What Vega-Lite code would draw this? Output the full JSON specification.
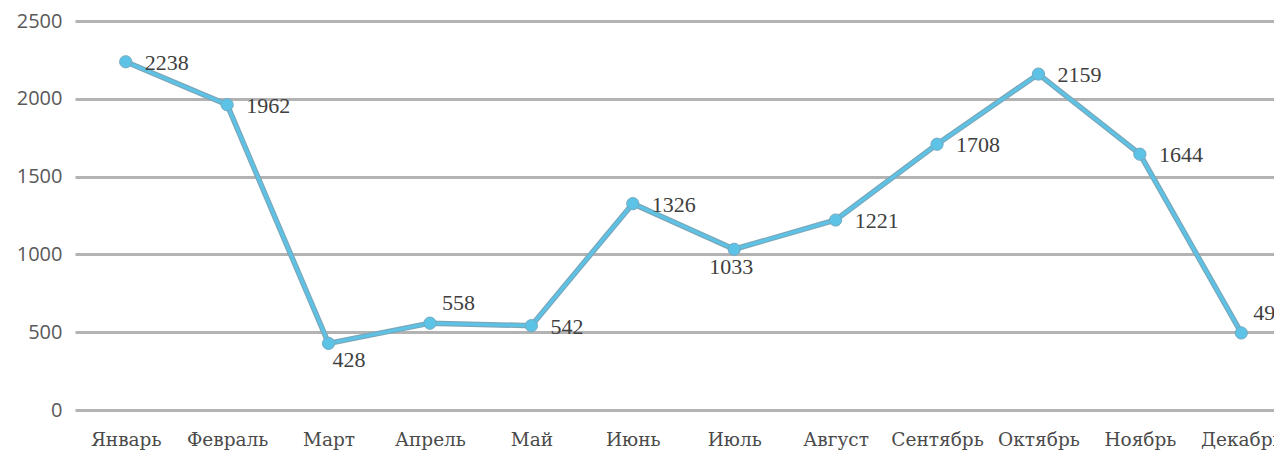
{
  "$schema": "https://vega.github.io/schema/vega-lite/v6.json",
  "width": 1217,
  "height": 389,
  "autosize": {"type": "none"},
  "padding": {"left": 75, "top": 21, "right": 0, "bottom": 43},
  "background": "white",
  "config": {"view": {"stroke": null}},
  "data": {"values": [
    {"month": "Январь", "value": 2238},
    {"month": "Февраль", "value": 1962},
    {"month": "Март", "value": 428},
    {"month": "Апрель", "value": 558},
    {"month": "Май", "value": 542},
    {"month": "Июнь", "value": 1326},
    {"month": "Июль", "value": 1033},
    {"month": "Август", "value": 1221},
    {"month": "Сентябрь", "value": 1708},
    {"month": "Октябрь", "value": 2159},
    {"month": "Ноябрь", "value": 1644},
    {"month": "Декабрь", "value": 495}
  ]},
  "encoding": {
    "x": {
      "field": "month", "type": "nominal", "sort": null,
      "scale": {"type": "point", "padding": 0.5},
      "axis": {"title": null, "labelAngle": 0, "domain": false, "ticks": false, "grid": false,
        "labelFont": "DejaVu Serif", "labelFontSize": 18.5, "labelColor": "#4a4a4a", "labelPadding": 20, "labelOverlap": false}
    },
    "y": {
      "field": "value", "type": "quantitative",
      "scale": {"domain": [0, 2500], "nice": false},
      "axis": {"title": null, "values": [0, 500, 1000, 1500, 2000, 2500], "format": "d", "domain": false, "ticks": false,
        "grid": true, "gridColor": "#b3b3b3", "gridWidth": 3,
        "labelFont": "Open Sans", "labelFontSize": 20, "labelColor": "#595959", "labelPadding": 13}
    }
  },
  "layer": [
    {"mark": {"type": "line", "stroke": "#7aa8bb", "strokeWidth": 5.5}},
    {"mark": {"type": "line", "stroke": "#5cc3e6", "strokeWidth": 3}},
    {"mark": {"type": "point", "shape": "circle", "filled": true, "size": 150, "fill": "#5cc3e6", "stroke": "#72aac2", "strokeWidth": 1, "opacity": 1}},
    {
      "transform": [{"filter": "indexof(['Март','Апрель','Июль','Декабрь'], datum.month) < 0"}],
      "mark": {"type": "text", "align": "left", "baseline": "middle", "dx": 19, "dy": 1, "font": "Liberation Serif", "fontSize": 22, "color": "#404040"},
      "encoding": {"text": {"field": "value", "type": "quantitative"}}
    },
    {
      "transform": [{"filter": "datum.month == 'Март'"}],
      "mark": {"type": "text", "align": "left", "baseline": "middle", "dx": 4, "dy": 17, "font": "Liberation Serif", "fontSize": 22, "color": "#404040"},
      "encoding": {"text": {"field": "value", "type": "quantitative"}}
    },
    {
      "transform": [{"filter": "datum.month == 'Июль'"}],
      "mark": {"type": "text", "align": "center", "baseline": "middle", "dx": -3, "dy": 18, "font": "Liberation Serif", "fontSize": 22, "color": "#404040"},
      "encoding": {"text": {"field": "value", "type": "quantitative"}}
    },
    {
      "transform": [{"filter": "datum.month == 'Апрель' || datum.month == 'Декабрь'"}],
      "mark": {"type": "text", "align": "left", "baseline": "middle", "dx": 12, "dy": -20, "font": "Liberation Serif", "fontSize": 22, "color": "#404040"},
      "encoding": {"text": {"field": "value", "type": "quantitative"}}
    }
  ]
}
